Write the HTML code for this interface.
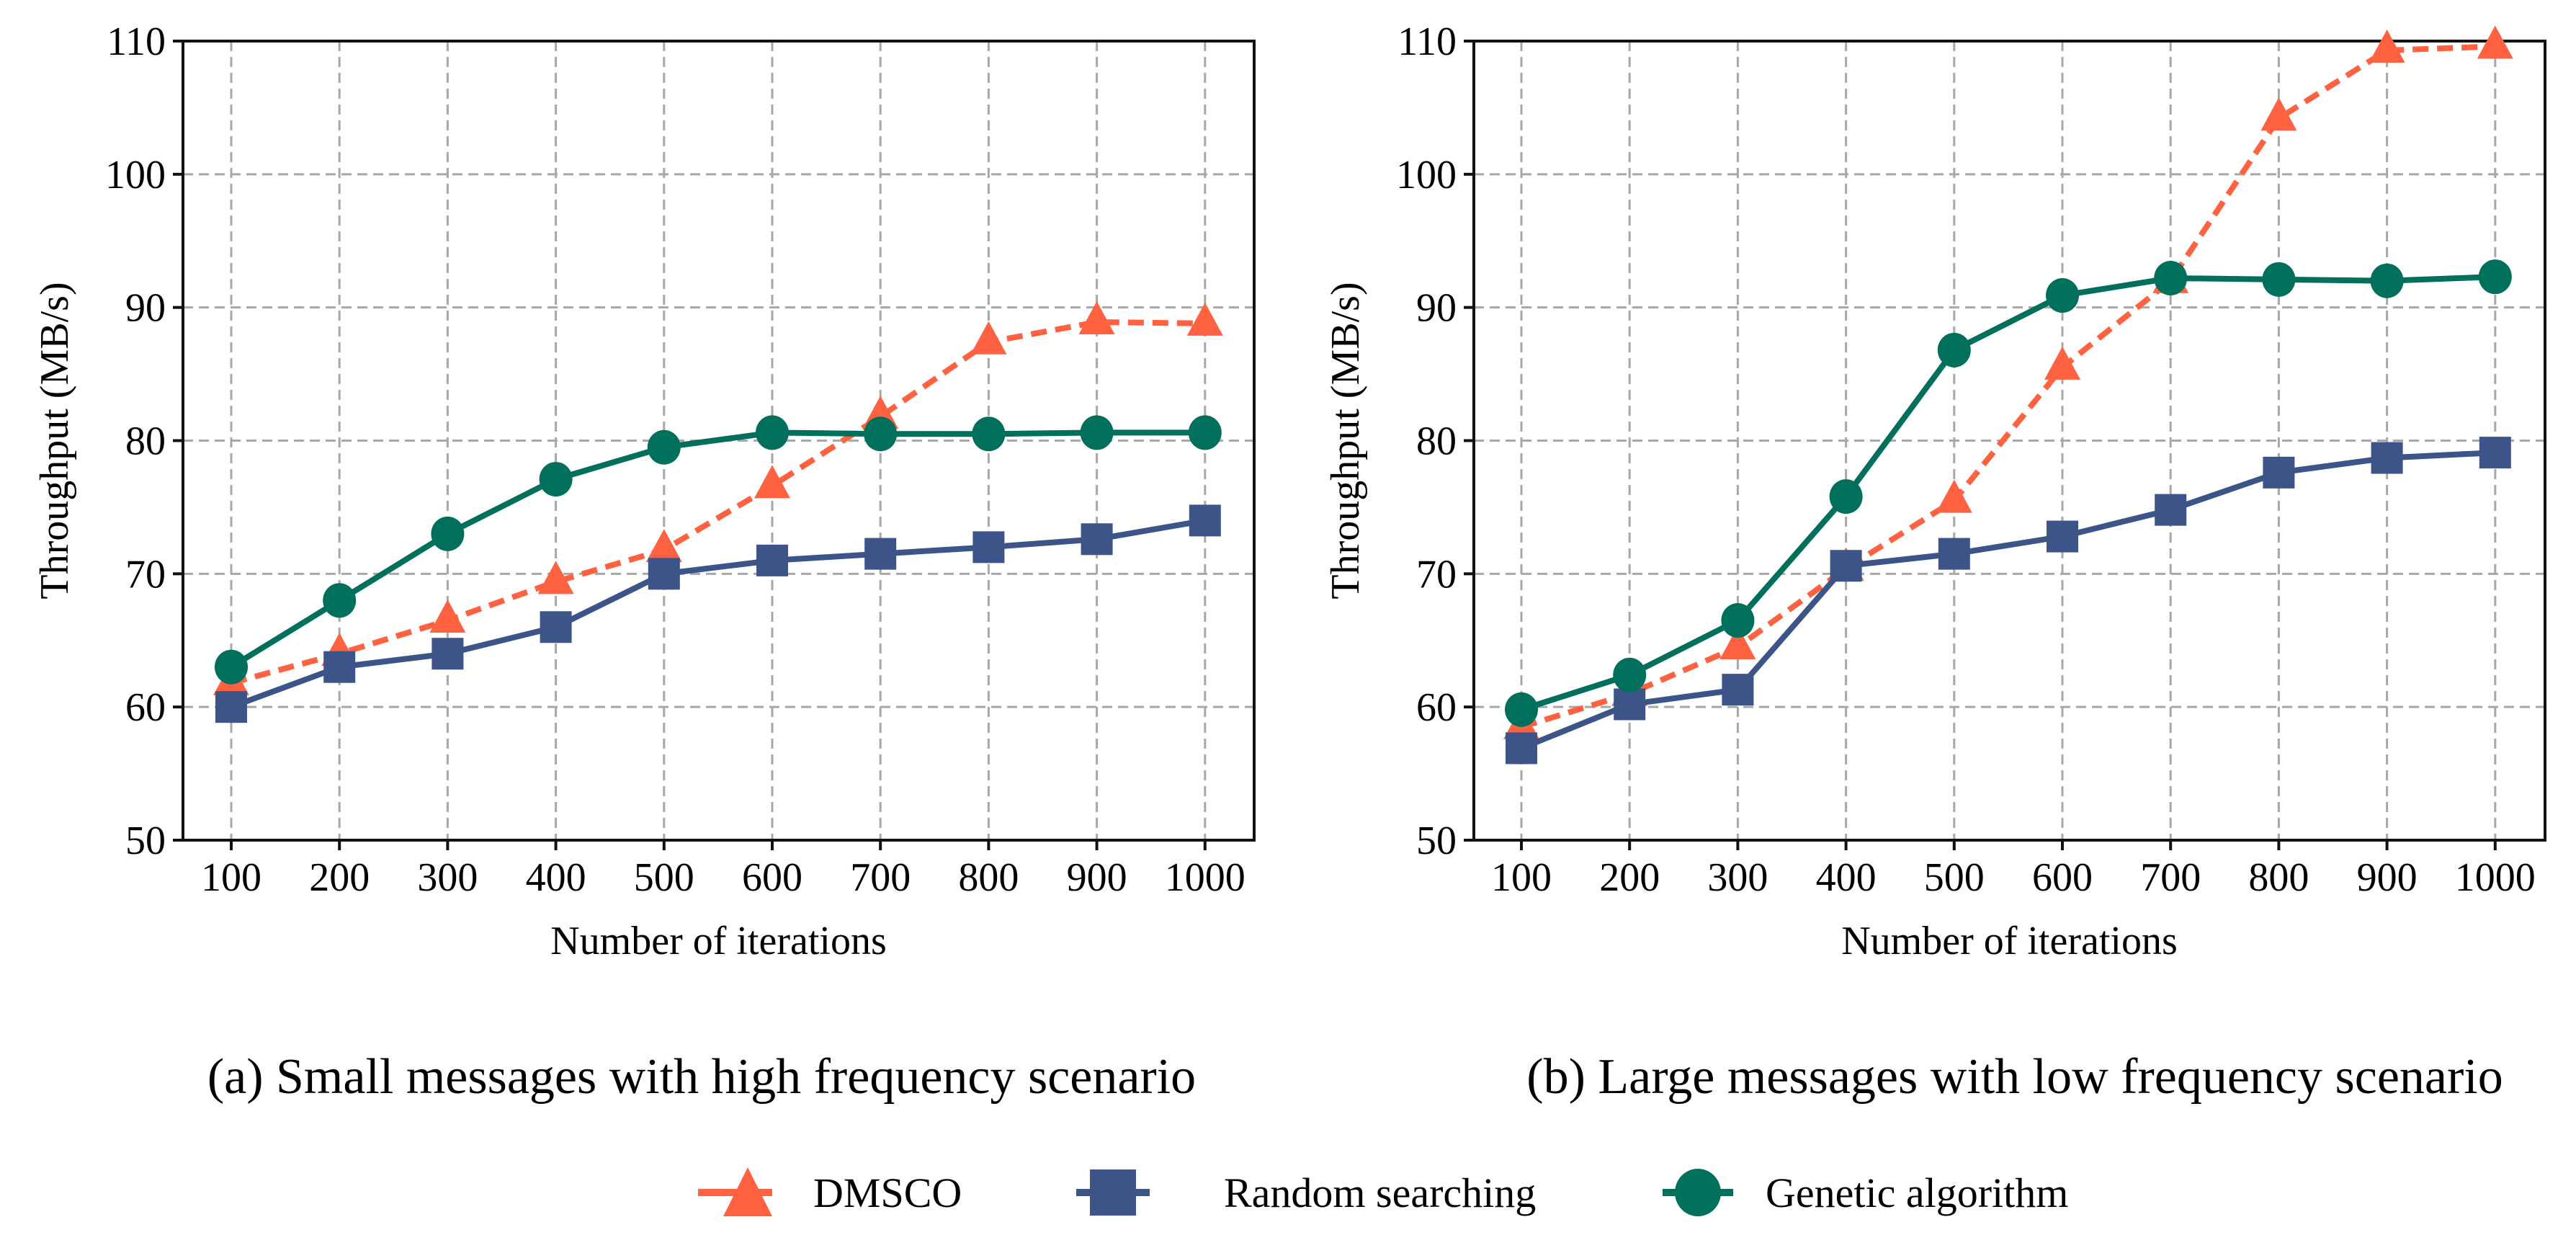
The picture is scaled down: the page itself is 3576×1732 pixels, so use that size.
<!DOCTYPE html>
<html><head><meta charset="utf-8"><style>
html,body{margin:0;padding:0;background:#fff;}
svg{display:block;font-family:"Liberation Serif",serif;}
</style></head><body>
<svg id="fig" width="3576" height="1732" viewBox="0 0 3576 1732" xmlns="http://www.w3.org/2000/svg">
<rect width="3576" height="1732" fill="#fff"/>
<text x="974" y="1517" font-size="70" text-anchor="middle">(a) Small messages with high frequency scenario</text>
<text x="2797" y="1517" font-size="70" text-anchor="middle">(b) Large messages with low frequency scenario</text>
<g>
 <g>
  <line x1="969" y1="1655" x2="1072" y2="1655" stroke="#FF6240" stroke-width="10"/>
  <polygon points="1038,1620 1072,1688 1004,1688" fill="#FF6240"/>
  <text x="1129" y="1675" font-size="58">DMSCO</text>
 </g>
 <g>
  <line x1="1494" y1="1655" x2="1596" y2="1655" stroke="#3C5488" stroke-width="10"/>
  <rect x="1513" y="1623" width="64" height="64" fill="#3C5488"/>
  <text x="1699" y="1675" font-size="58">Random searching</text>
 </g>
 <g>
  <line x1="2308" y1="1655" x2="2406" y2="1655" stroke="#006F5B" stroke-width="10"/>
  <ellipse cx="2357" cy="1655" rx="32" ry="33" fill="#006F5B"/>
  <text x="2451" y="1675" font-size="58">Genetic algorithm</text>
 </g>
</g>
</svg>
<script>
const categories = [100,200,300,400,500,600,700,800,900,1000];
const yTicks = [50,60,70,80,90,100,110];
const dmscoA = [61.8,64,66.5,69.4,71.8,76.6,81.8,87.4,88.9,88.8];
const randomA = [60,63,64,66,70,71,71.5,72,72.6,74];
const geneticA = [63,68,73,77.1,79.5,80.6,80.5,80.5,80.6,80.6];
const dmscoB = [58.5,61,64.5,70.4,75.5,85.5,92,104.2,109.3,109.6];
const randomB = [56.9,60.2,61.3,70.6,71.5,72.8,74.8,77.6,78.7,79.1];
const geneticB = [59.8,62.4,66.5,75.8,86.8,90.9,92.2,92.1,92.0,92.3];

const NS="http://www.w3.org/2000/svg";
const svg=document.getElementById('fig');
function mk(tag,attrs,parent){const e=document.createElementNS(NS,tag);for(const k in attrs)e.setAttribute(k,attrs[k]);(parent||svg).appendChild(e);return e;}

function panel(id,left,right,x0,top,bottom,dm,rs,ga){
  const g=mk('g',{});
  
  
  const step=150.2;
  const xs=i=>x0+i*step;
  const ys=v=>bottom-(v-50)/60*(bottom-top);
  yTicks.forEach(t=>{
    const y=ys(t);
    if(t>50&&t<110){const l=mk('line',{x1:left,x2:right,y1:y,y2:y,stroke:'#a8a8a8','stroke-width':3,'stroke-dasharray':'14 8'},g);
    
    }
    mk('line',{x1:left-14,x2:left,y1:y,y2:y,stroke:'#111','stroke-width':4},g);
    const tx=mk('text',{x:left-24,y:y+19,'font-size':56,'text-anchor':'end'},g);
    tx.textContent=t;
    
    
  });
  categories.forEach((c,i)=>{
    const x=xs(i);
    const l=mk('line',{x1:x,x2:x,y1:top,y2:bottom,stroke:'#a8a8a8','stroke-width':3,'stroke-dasharray':'14 8'},g);
    
    
    mk('line',{x1:x,x2:x,y1:bottom,y2:bottom+14,stroke:'#111','stroke-width':4},g);
    const tx=mk('text',{x:x,y:bottom+70,'font-size':56,'text-anchor':'middle'},g);
    tx.textContent=c;
    
    
  });
  const ax=mk('rect',{x:left,y:top,width:right-left,height:bottom-top,fill:'none',stroke:'#111','stroke-width':4},g);
  
  
  const xl=mk('text',{x:(left+right)/2,y:bottom+158,'font-size':56,'text-anchor':'middle'},g);
  xl.textContent='Number of iterations';
  
  
  const yx=left-160, yy=(top+bottom)/2;
  const yl=mk('text',{x:yx,y:yy,'font-size':56,'text-anchor':'middle',transform:`rotate(-90 ${yx} ${yy})`},g);
  yl.textContent='Throughput (MB/s)';
  
  

  function series(name,vals,color,dash,marker){
    const sg=mk('g',{},g);
    
    
    const pts=vals.map((v,i)=>xs(i)+','+ys(v)).join(' ');
    const pl=mk('polyline',{points:pts,fill:'none',stroke:color,'stroke-width':8,'stroke-linejoin':'round'},sg);
    if(dash)pl.setAttribute('stroke-dasharray',dash);
    
    
    vals.forEach((v,i)=>{
      const x=xs(i),y=ys(v);let m;
      if(marker==='tri')m=mk('polygon',{points:`${x},${y-29} ${x+25},${y+17} ${x-25},${y+17}`,fill:color},sg);
      else if(marker==='sq')m=mk('rect',{x:x-22,y:y-22,width:44,height:44,fill:color},sg);
      else m=mk('ellipse',{cx:x,cy:y,rx:23,ry:24,fill:color},sg);
      
      
    });
  }
  series('dmsco-series',dm,'#FF6240','22 12','tri');
  series('random-searching-series',rs,'#3C5488',null,'sq');
  series('genetic-algorithm-series',ga,'#006F5B',null,'circ');
}
panel('chart-a',254,1741,321,57,1166,dmscoA,randomA,geneticA);
panel('chart-b',2046,3533,2112,57,1166,dmscoB,randomB,geneticB);
</script>
</body></html>
